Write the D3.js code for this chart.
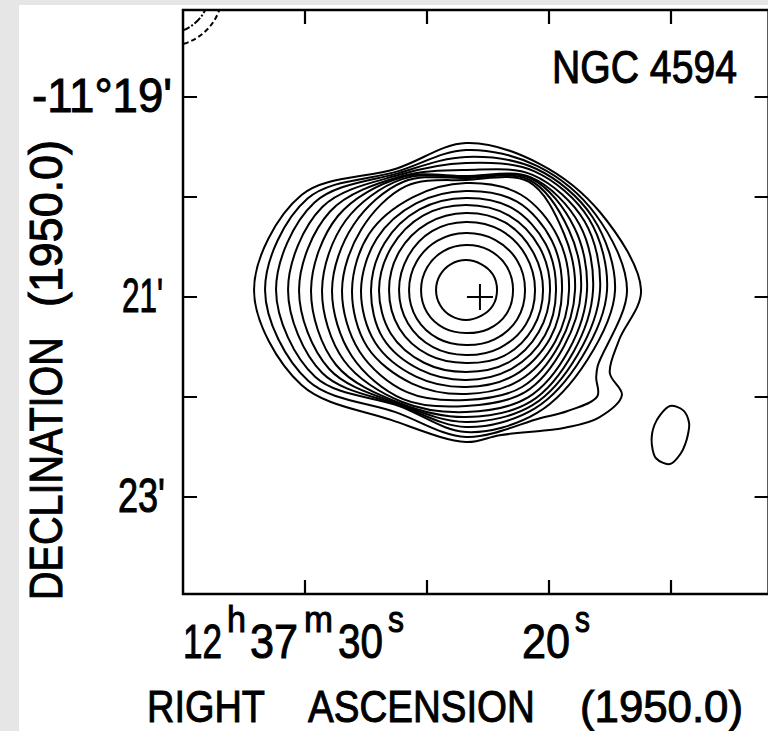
<!DOCTYPE html>
<html>
<head>
<meta charset="utf-8">
<script src="https://cdn.jsdelivr.net/npm/d3@7"></script>
<style>
  body { margin: 0; background: #e6e6e6; }
  svg { display: block; }
  text { font-family: "Liberation Sans", Arial, sans-serif; fill: #000; stroke: #000; stroke-width: 1; }
</style>
</head>
<body>
<svg id="chart" width="768" height="731"></svg>
<script>
// RA in seconds of 12h37m, Dec in arcmin of -11 deg (1950.0)
const raTicks = [30, 25, 20, 15];
const decTicks = [19, 20, 21, 22, 23];

const decLabels = [
  { dec: 19, text: "-11°19'" },
  { dec: 21, text: "21'" },
  { dec: 23, text: "23'" }
];
const raLabels = [
  { ra: 30, parts: [["12", 0], ["h", 1], ["37", 0], ["m", 1], ["30", 0], ["s", 1]] },
  { ra: 20, parts: [["20", 0], ["s", 1]] }
];

// contour radii (arcmin) read at these position angles around the map centre
const contourCentre = { ra: 23.4, dec: 20.93 };
const contourAngles = [0, 30, 60, 90, 120, 150, 180, 210, 240, 270, 300, 330];
const contourRadii = [
  [0.30, 0.30, 0.31, 0.31, 0.31, 0.30, 0.30, 0.30, 0.30, 0.30, 0.30, 0.30],
  [0.45, 0.46, 0.47, 0.47, 0.47, 0.45, 0.43, 0.44, 0.45, 0.45, 0.45, 0.45],
  [0.57, 0.58, 0.59, 0.59, 0.59, 0.57, 0.55, 0.56, 0.57, 0.57, 0.57, 0.57],
  [0.68, 0.69, 0.69, 0.69, 0.69, 0.67, 0.65, 0.66, 0.67, 0.67, 0.67, 0.68],
  [0.77, 0.78, 0.77, 0.77, 0.77, 0.76, 0.73, 0.75, 0.77, 0.77, 0.77, 0.77],
  [0.85, 0.86, 0.85, 0.84, 0.84, 0.84, 0.82, 0.84, 0.87, 0.87, 0.86, 0.86],
  [0.92, 0.94, 0.92, 0.90, 0.91, 0.91, 0.90, 0.92, 0.96, 0.95, 0.94, 0.93],
  [0.99, 1.02, 0.99, 0.96, 0.97, 0.98, 0.97, 1.00, 1.05, 1.05, 1.03, 1.00],
  [1.07, 1.10, 1.06, 1.03, 1.03, 1.05, 1.04, 1.08, 1.14, 1.14, 1.12, 1.07],
  [1.10, 1.25, 1.13, 1.09, 1.08, 1.12, 1.10, 1.18, 1.23, 1.24, 1.21, 1.20],
  [1.12, 1.27, 1.19, 1.15, 1.13, 1.18, 1.16, 1.26, 1.32, 1.34, 1.30, 1.25],
  [1.13, 1.29, 1.25, 1.21, 1.19, 1.24, 1.22, 1.29, 1.41, 1.44, 1.39, 1.28],
  [1.14, 1.30, 1.31, 1.27, 1.24, 1.29, 1.27, 1.31, 1.50, 1.55, 1.48, 1.30],
  [1.20, 1.33, 1.37, 1.34, 1.29, 1.33, 1.32, 1.32, 1.58, 1.67, 1.57, 1.31],
  [1.27, 1.37, 1.42, 1.41, 1.34, 1.37, 1.37, 1.33, 1.66, 1.78, 1.66, 1.33],
  [1.33, 1.40, 1.46, 1.49, 1.40, 1.42, 1.42, 1.34, 1.74, 1.90, 1.75, 1.35],
  [1.40, 1.43, 1.50, 1.61, 1.52, 1.48, 1.47, 1.41, 1.82, 2.01, 1.83, 1.37],
  [1.47, 1.46, 1.55, 1.75, 1.66, 1.62, 1.52, 1.50, 1.90, 2.12, 1.90, 1.40]
];
// extra readings on the two outer contours (SW bulge): [contour, angle, radius]
const contourExtra = [
  [16, 124, 1.57], [16, 129, 1.69], [16, 140, 1.58],
  [17, 108, 1.61], [17, 124, 1.88], [17, 134, 1.84], [17, 144, 1.70], [17, 167, 1.49]
];

// small isolated source to the SW
const blobCentre = { ra: 15.04, dec: 22.37 };
const blobRadii = [0.28, 0.27, 0.22, 0.18, 0.18, 0.22, 0.30, 0.28, 0.21, 0.18, 0.18, 0.21];

// negative (dashed) contours off the NE corner
const negCentre = { ra: 35.6, dec: 17.95 };
const negRadii = [0.41, 0.54];

const nucleus = { ra: 22.83, dec: 21.0, arm: 0.13 };

const svg = d3.select("#chart");
const W = 768, H = 731;

svg.append("rect").attr("width", W).attr("height", H).attr("fill", "#e6e6e6");
svg.append("rect").attr("x", 19).attr("y", 5).attr("width", W - 19).attr("height", H - 5).attr("fill", "#fff");

const x = d3.scaleLinear().domain([35, 11]).range([183, 768.6]);
const y = d3.scaleLinear().domain([18.13, 23.97]).range([10, 594]);
const r = d3.scaleLinear().domain([0, 1]).range([0, y(21) - y(20)]);

const x0 = x.range()[0], x1 = x.range()[1], y0 = y.range()[0], y1 = y.range()[1];

svg.append("clipPath").attr("id", "plot")
  .append("rect").attr("x", x0).attr("y", y0).attr("width", x1 - x0).attr("height", y1 - y0);

const g = svg.append("g").attr("clip-path", "url(#plot)");

const radial = d3.lineRadial()
  .angle(d => d[0] * Math.PI / 180)
  .radius(d => r(d[1]))
  .curve(d3.curveCatmullRomClosed.alpha(0.5));

const toPoints = radii => radii.map((v, j) => [contourAngles[j], v]);

const contours = contourRadii.map((row, k) => {
  const pts = toPoints(row).concat(contourExtra.filter(e => e[0] === k).map(e => [e[1], e[2]]));
  return pts.sort((a, b) => a[0] - b[0]);
});

g.append("g")
  .attr("transform", `translate(${x(contourCentre.ra)},${y(contourCentre.dec)})`)
  .selectAll("path")
  .data(contours)
  .join("path")
  .attr("d", radial)
  .attr("fill", "none")
  .attr("stroke", "#000")
  .attr("stroke-width", 2);

g.append("path")
  .attr("transform", `translate(${x(blobCentre.ra)},${y(blobCentre.dec)})`)
  .attr("d", radial(toPoints(blobRadii)))
  .attr("fill", "none")
  .attr("stroke", "#000")
  .attr("stroke-width", 2);

g.selectAll("circle.neg")
  .data(negRadii)
  .join("circle")
  .attr("class", "neg")
  .attr("cx", x(negCentre.ra))
  .attr("cy", y(negCentre.dec))
  .attr("r", d => r(d))
  .attr("fill", "none")
  .attr("stroke", "#000")
  .attr("stroke-width", 2)
  .attr("stroke-dasharray", (d, i) => i ? "5,3" : "8,2,2,2");

// nucleus cross
const nx = x(nucleus.ra), ny = y(nucleus.dec), na = r(nucleus.arm);
g.append("path")
  .attr("d", `M${nx - na},${ny}H${nx + na}M${nx},${ny - na}V${ny + na}`)
  .attr("stroke", "#000")
  .attr("stroke-width", 2);

// frame + inward ticks
const tickLen = 14;
const axes = svg.append("g").attr("stroke", "#000").attr("fill", "none");
axes.append("rect")
  .attr("x", x0).attr("y", y0).attr("width", x1 - x0).attr("height", y1 - y0)
  .attr("stroke-width", 2.5);

axes.selectAll("path.xt")
  .data(raTicks)
  .join("path")
  .attr("class", "xt")
  .attr("stroke-width", 2.2)
  .attr("d", d => `M${x(d)},${y1}v${-tickLen}M${x(d)},${y0}v${tickLen}`);

axes.selectAll("path.yt")
  .data(decTicks)
  .join("path")
  .attr("class", "yt")
  .attr("stroke-width", 2.2)
  .attr("d", d => `M${x0},${y(d)}h${tickLen}M${x1},${y(d)}h${-tickLen}`);

// the lettering is narrow: squeeze each piece to the width it has on the plate
function fitText(str, size, left, base, width, rotate) {
  const t = svg.append("text").attr("font-size", size).text(str);
  const sx = width / t.node().getComputedTextLength();
  t.attr("transform", `translate(${left},${base})${rotate ? " rotate(-90)" : ""} scale(${sx},1)`);
  return t;
}

// dec tick labels
const decLabelBox = { "-11°19'": [-151, 140], "21'": [-61, 41], "23'": [-65, 47] };
decLabels.forEach(d => {
  const b = decLabelBox[d.text];
  fitText(d.text, 48, x0 + b[0], y(d.dec) + 15, b[1]);
});

// ra tick labels with superscript units
const raPieceBox = {
  30: [[-122, 39], [-78, 19], [-55, 48], [-1, 29], [33, 45], [83, 16]],
  20: [[-27, 48], [26, 15]]
};
raLabels.forEach(d => {
  d.parts.forEach((p, i) => {
    const b = raPieceBox[d.ra][i];
    fitText(p[0], p[1] ? 37 : 48, x(d.ra) + b[0], p[1] ? 632 : 658, b[1]);
  });
});

// source name
fitText("NGC 4594", 46, 552, 83, 185);

// x axis title
[["RIGHT", 147, 118], ["ASCENSION", 308, 227], ["(1950.0)", 580, 163]]
  .forEach(d => fitText(d[0], 45, d[1], 722, d[2]));

// y axis title (reads upward)
[["DECLINATION", 600, 263], ["(1950.0)", 307, 167]]
  .forEach(d => fitText(d[0], 47, 62, d[1], d[2], true));
</script>
</body>
</html>
